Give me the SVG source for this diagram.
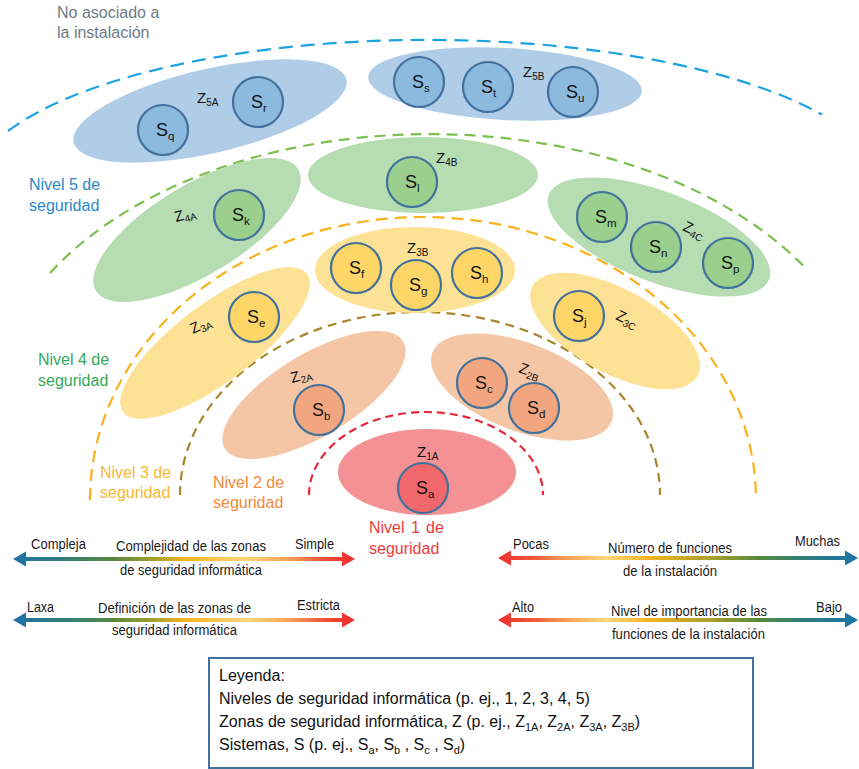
<svg xmlns="http://www.w3.org/2000/svg" width="859" height="769" viewBox="0 0 859 769">
  <defs>
    <style>
      text { font-family: "Liberation Sans", Arial, sans-serif; }
      .lvl { fill: none; stroke-width: 2.2; }
      .sys { stroke: #41719C; stroke-width: 2.2; }
      .sl { font-size: 18px; fill: #111; }
      .sub { font-size: 11.5px; }
      .zl { font-size: 15px; fill: #111; }
      .zsub { font-size: 10px; }
      .lab { font-size: 16px; }
      .sc { font-size: 14px; fill: #1a1a1a; }
      .leg { font-size: 16px; fill: #111; }
      .z5 { fill: #AFCDE6; } .s5 { fill: #8CB9DE; }
      .z4 { fill: #B6DDB1; } .s4 { fill: #9BCF8E; }
      .z3 { fill: #FDE194; } .s3 { fill: #FED667; }
      .z2 { fill: #F5C6A5; } .s2 { fill: #F2A680; }
      .z1 { fill: #F39194; } .s1 { fill: #F0676C; }
    </style>
    <linearGradient id="gradCR" gradientUnits="userSpaceOnUse" x1="13" y1="0" x2="355" y2="0">
      <stop offset="0" stop-color="#1C73A8"/>
      <stop offset="0.18" stop-color="#3A8070"/>
      <stop offset="0.3" stop-color="#5B8A3C"/>
      <stop offset="0.42" stop-color="#A8A22C"/>
      <stop offset="0.5" stop-color="#F4B41E"/>
      <stop offset="0.68" stop-color="#FDD67C"/>
      <stop offset="0.8" stop-color="#F9A55A"/>
      <stop offset="0.92" stop-color="#EE4A34"/>
      <stop offset="1" stop-color="#EC2F2F"/>
    </linearGradient>
    <linearGradient id="gradRC" gradientUnits="userSpaceOnUse" x1="498" y1="0" x2="858" y2="0">
      <stop offset="0" stop-color="#EC2F2F"/>
      <stop offset="0.1" stop-color="#EF5A3A"/>
      <stop offset="0.2" stop-color="#F9A55A"/>
      <stop offset="0.3" stop-color="#FDD67C"/>
      <stop offset="0.42" stop-color="#F4B41E"/>
      <stop offset="0.6" stop-color="#A39E2E"/>
      <stop offset="0.72" stop-color="#5B8A3C"/>
      <stop offset="0.85" stop-color="#2E7D7A"/>
      <stop offset="1" stop-color="#1C73A8"/>
    </linearGradient>
  </defs>

  <!-- security level boundaries -->
  <g id="connectors">
    <path class="lvl" stroke="#1BA3E0" stroke-dasharray="14 8" d="M8 131 A460 154 0 0 1 822 114.5"/>
    <path class="lvl" stroke="#7DBF4F" stroke-dasharray="11 7" d="M50 273 A440 280 0 0 1 803 265.5"/>
    <path class="lvl" stroke="#F9B21E" stroke-dasharray="12 7" d="M90 500 A333 283 0 0 1 756 500"/>
    <path class="lvl" stroke="#A8862E" stroke-dasharray="9 6" d="M180 495 A240 183 0 0 1 660 495"/>
    <path class="lvl" stroke="#E8283A" stroke-dasharray="8 5" d="M309 495 A117 83 0 0 1 543 495"/>
  </g>

  <!-- level captions -->
  <g id="level-labels" class="lab">
    <text x="57" y="18" fill="#6E7B87">No asociado a</text>
    <text x="57" y="38" fill="#6E7B87">la instalación</text>
    <text x="29" y="190" fill="#2C88C6">Nivel 5 de</text>
    <text x="29" y="211" fill="#2C88C6">seguridad</text>
    <text x="38" y="365" fill="#34A85A">Nivel 4 de</text>
    <text x="38" y="386" fill="#34A85A">seguridad</text>
    <text x="100" y="478" fill="#F7B731">Nivel 3 de</text>
    <text x="100" y="498" fill="#F7B731">seguridad</text>
    <text x="213" y="488" fill="#EE8B3C">Nivel 2 de</text>
    <text x="213" y="508" fill="#EE8B3C">seguridad</text>
    <text x="369" y="533" fill="#EE3C3C">Nivel</text>
    <text x="411" y="533" fill="#EE3C3C">1</text>
    <text x="426" y="533" fill="#EE3C3C">de</text>
    <text x="369" y="554" fill="#EE3C3C">seguridad</text>
  </g>

  <!-- level 5 zones -->
  <g id="zone-5A">
    <ellipse class="z5" cx="210" cy="111" rx="140" ry="42" transform="rotate(-13 210 111)"/>
    <text class="zl" x="197" y="103">Z<tspan class="zsub" dy="3">5A</tspan></text>
    <g id="sys-q"><circle class="sys s5" cx="163" cy="130" r="25"/><text class="sl" x="156" y="136">S<tspan class="sub" dy="4">q</tspan></text></g>
    <g id="sys-r"><circle class="sys s5" cx="258" cy="102" r="25"/><text class="sl" x="251" y="108">S<tspan class="sub" dy="4">r</tspan></text></g>
  </g>
  <g id="zone-5B">
    <ellipse class="z5" cx="505" cy="84" rx="137" ry="36" transform="rotate(3 505 84)"/>
    <text class="zl" x="523" y="77">Z<tspan class="zsub" dy="3">5B</tspan></text>
    <g id="sys-s"><circle class="sys s5" cx="419" cy="82" r="25"/><text class="sl" x="412" y="88">S<tspan class="sub" dy="4">s</tspan></text></g>
    <g id="sys-t"><circle class="sys s5" cx="488" cy="87" r="25"/><text class="sl" x="481" y="93">S<tspan class="sub" dy="4">t</tspan></text></g>
    <g id="sys-u"><circle class="sys s5" cx="573" cy="92" r="25"/><text class="sl" x="566" y="98">S<tspan class="sub" dy="4">u</tspan></text></g>
  </g>

  <!-- level 4 zones -->
  <g id="zone-4A">
    <ellipse class="z4" cx="197" cy="230" rx="118" ry="45" transform="rotate(-31 197 230)"/>
    <text class="zl" x="176" y="222" transform="rotate(-15 176 222)">Z<tspan class="zsub" dy="3">4A</tspan></text>
    <g id="sys-k"><circle class="sys s4" cx="239" cy="215" r="25"/><text class="sl" x="232" y="221">S<tspan class="sub" dy="4">k</tspan></text></g>
  </g>
  <g id="zone-4B">
    <ellipse class="z4" cx="423" cy="175" rx="115" ry="38"/>
    <text class="zl" x="436" y="163">Z<tspan class="zsub" dy="3">4B</tspan></text>
    <g id="sys-l"><circle class="sys s4" cx="412" cy="182" r="25"/><text class="sl" x="405" y="188">S<tspan class="sub" dy="4">l</tspan></text></g>
  </g>
  <g id="zone-4C">
    <ellipse class="z4" cx="659" cy="237" rx="118" ry="45" transform="rotate(21 659 237)"/>
    <text class="zl" x="682" y="230" transform="rotate(25 682 230)">Z<tspan class="zsub" dy="3">4C</tspan></text>
    <g id="sys-m"><circle class="sys s4" cx="602" cy="217" r="25"/><text class="sl" x="595" y="223">S<tspan class="sub" dy="4">m</tspan></text></g>
    <g id="sys-n"><circle class="sys s4" cx="656" cy="247" r="25"/><text class="sl" x="649" y="253">S<tspan class="sub" dy="4">n</tspan></text></g>
    <g id="sys-p"><circle class="sys s4" cx="728" cy="263" r="25"/><text class="sl" x="721" y="269">S<tspan class="sub" dy="4">p</tspan></text></g>
  </g>

  <!-- level 3 zones -->
  <g id="zone-3A">
    <ellipse class="z3" cx="215" cy="343" rx="115" ry="39" transform="rotate(-37 215 343)"/>
    <text class="zl" x="193" y="334" transform="rotate(-25 193 334)">Z<tspan class="zsub" dy="3">3A</tspan></text>
    <g id="sys-e"><circle class="sys s3" cx="254" cy="317" r="25"/><text class="sl" x="247" y="323">S<tspan class="sub" dy="4">e</tspan></text></g>
  </g>
  <g id="zone-3B">
    <ellipse class="z3" cx="415" cy="270" rx="100" ry="43"/>
    <text class="zl" x="407" y="253">Z<tspan class="zsub" dy="3">3B</tspan></text>
    <g id="sys-f"><circle class="sys s3" cx="356" cy="268" r="25"/><text class="sl" x="349" y="274">S<tspan class="sub" dy="4">f</tspan></text></g>
    <g id="sys-g"><circle class="sys s3" cx="416" cy="285" r="25"/><text class="sl" x="409" y="291">S<tspan class="sub" dy="4">g</tspan></text></g>
    <g id="sys-h"><circle class="sys s3" cx="477" cy="273" r="25"/><text class="sl" x="470" y="279">S<tspan class="sub" dy="4">h</tspan></text></g>
  </g>
  <g id="zone-3C">
    <ellipse class="z3" cx="615" cy="331" rx="94" ry="42" transform="rotate(28.6 615 331)"/>
    <text class="zl" x="615" y="319" transform="rotate(25 615 319)">Z<tspan class="zsub" dy="3">3C</tspan></text>
    <g id="sys-j"><circle class="sys s3" cx="579" cy="316" r="25"/><text class="sl" x="572" y="322">S<tspan class="sub" dy="4">j</tspan></text></g>
  </g>

  <!-- level 2 zones -->
  <g id="zone-2A">
    <ellipse class="z2" cx="314" cy="395" rx="104" ry="41" transform="rotate(-31 314 395)"/>
    <text class="zl" x="292" y="383" transform="rotate(-15 292 383)">Z<tspan class="zsub" dy="3">2A</tspan></text>
    <g id="sys-b"><circle class="sys s2" cx="319" cy="410" r="25"/><text class="sl" x="312" y="416">S<tspan class="sub" dy="4">b</tspan></text></g>
  </g>
  <g id="zone-2B">
    <ellipse class="z2" cx="522" cy="387" rx="96" ry="44" transform="rotate(21 522 387)"/>
    <text class="zl" x="518" y="372" transform="rotate(20 518 372)">Z<tspan class="zsub" dy="3">2B</tspan></text>
    <g id="sys-c"><circle class="sys s2" cx="482" cy="383" r="25"/><text class="sl" x="475" y="389">S<tspan class="sub" dy="4">c</tspan></text></g>
    <g id="sys-d"><circle class="sys s2" cx="534" cy="408" r="25"/><text class="sl" x="527" y="414">S<tspan class="sub" dy="4">d</tspan></text></g>
  </g>

  <!-- level 1 zone -->
  <g id="zone-1A">
    <ellipse class="z1" cx="427" cy="472" rx="89" ry="43"/>
    <text class="zl" x="417" y="457">Z<tspan class="zsub" dy="3">1A</tspan></text>
    <g id="sys-a"><circle class="sys s1" cx="423" cy="488" r="25"/><text class="sl" x="416" y="494">S<tspan class="sub" dy="4">a</tspan></text></g>
  </g>

  <!-- graded scales -->
  <g id="scales">
    <path fill="url(#gradCR)" d="M13 559 L26 551.5 L26 557 L342 557 L342 551.5 L355 559 L342 566.5 L342 561 L26 561 L26 566.5 Z"/>
    <path fill="url(#gradCR)" d="M13 620 L26 612.5 L26 618 L342 618 L342 612.5 L355 620 L342 627.5 L342 622 L26 622 L26 627.5 Z"/>
    <path fill="url(#gradRC)" d="M498 558 L511 550.5 L511 556 L845 556 L845 550.5 L858 558 L845 565.5 L845 560 L511 560 L511 565.5 Z"/>
    <path fill="url(#gradRC)" d="M498 620 L511 612.5 L511 618 L845 618 L845 612.5 L858 620 L845 627.5 L845 622 L511 622 L511 627.5 Z"/>

    <text class="sc" x="31" y="549" textLength="55" lengthAdjust="spacingAndGlyphs">Compleja</text>
    <text class="sc" x="116" y="551" textLength="150" lengthAdjust="spacingAndGlyphs">Complejidad de las zonas</text>
    <text class="sc" x="120" y="575" textLength="142" lengthAdjust="spacingAndGlyphs">de seguridad informática</text>
    <text class="sc" x="295" y="549" textLength="39" lengthAdjust="spacingAndGlyphs">Simple</text>

    <text class="sc" x="27" y="612" textLength="27" lengthAdjust="spacingAndGlyphs">Laxa</text>
    <text class="sc" x="98" y="613" textLength="153" lengthAdjust="spacingAndGlyphs">Definición de las zonas de</text>
    <text class="sc" x="112" y="635" textLength="125" lengthAdjust="spacingAndGlyphs">seguridad informática</text>
    <text class="sc" x="297" y="610" textLength="43" lengthAdjust="spacingAndGlyphs">Estricta</text>

    <text class="sc" x="513" y="549" textLength="36" lengthAdjust="spacingAndGlyphs">Pocas</text>
    <text class="sc" x="608" y="553" textLength="124" lengthAdjust="spacingAndGlyphs">Número de funciones</text>
    <text class="sc" x="623" y="576" textLength="94" lengthAdjust="spacingAndGlyphs">de la instalación</text>
    <text class="sc" x="795" y="546" textLength="45" lengthAdjust="spacingAndGlyphs">Muchas</text>

    <text class="sc" x="512" y="612" textLength="22" lengthAdjust="spacingAndGlyphs">Alto</text>
    <text class="sc" x="611" y="616" textLength="156" lengthAdjust="spacingAndGlyphs">Nivel de importancia de las</text>
    <text class="sc" x="612" y="639" textLength="153" lengthAdjust="spacingAndGlyphs">funciones de la instalación</text>
    <text class="sc" x="816" y="612" textLength="26" lengthAdjust="spacingAndGlyphs">Bajo</text>
  </g>

  <!-- key -->
  <g id="legend">
    <rect x="209" y="658" width="544" height="110" fill="#fff" stroke="#41719C" stroke-width="2"/>
    <text class="leg" x="219" y="681">Leyenda:</text>
    <text class="leg" x="219" y="704">Niveles de seguridad informática (p. ej., 1, 2, 3, 4, 5)</text>
    <text class="leg" x="219" y="727">Zonas de seguridad informática, Z (p. ej., Z<tspan font-size="11" dy="4">1A</tspan><tspan dy="-4">, Z</tspan><tspan font-size="11" dy="4">2A</tspan><tspan dy="-4">, Z</tspan><tspan font-size="11" dy="4">3A</tspan><tspan dy="-4">, Z</tspan><tspan font-size="11" dy="4">3B</tspan><tspan dy="-4">)</tspan></text>
    <text class="leg" x="219" y="750">Sistemas, S (p. ej., S<tspan font-size="11" dy="4">a</tspan><tspan dy="-4">, S</tspan><tspan font-size="11" dy="4">b</tspan><tspan dy="-4"> , S</tspan><tspan font-size="11" dy="4">c</tspan><tspan dy="-4"> , S</tspan><tspan font-size="11" dy="4">d</tspan><tspan dy="-4">)</tspan></text>
  </g>
</svg>
